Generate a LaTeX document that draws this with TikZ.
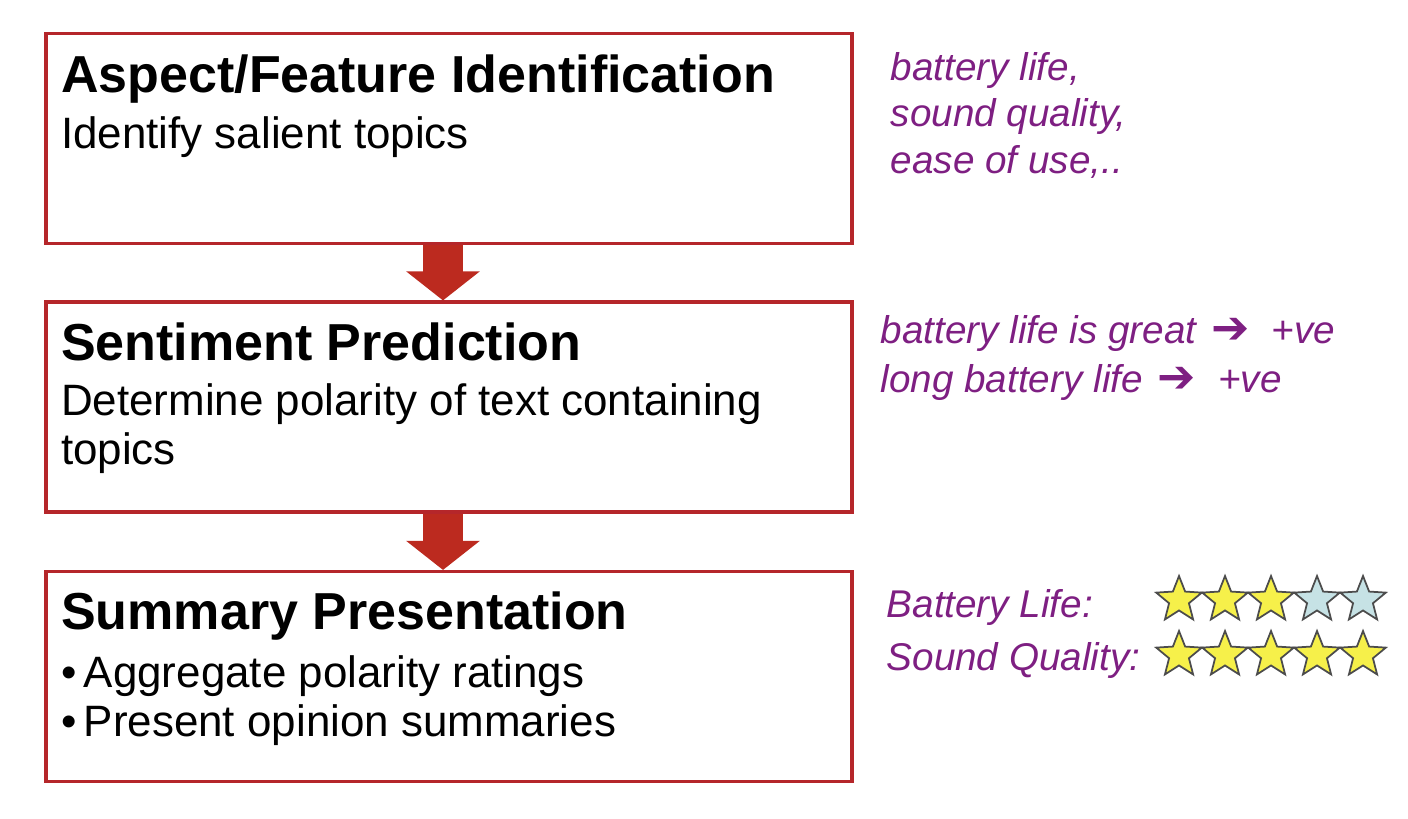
\documentclass[tikz,border=0pt]{standalone}
\usepackage{fontspec}
\setmainfont{Liberation Sans}
\newfontfamily\symfont{DejaVu Sans}
\usetikzlibrary{arrows.meta,positioning,calc,shapes.geometric}
\definecolor{boxred}{HTML}{B5262A}
\definecolor{arrowred}{HTML}{BC2A1F}
\definecolor{notepurple}{HTML}{7E1F82}
\definecolor{staryellow}{HTML}{F6F04A}
\definecolor{starblue}{HTML}{C6E2E5}
\newcommand{\goesto}{{\symfont\bfseries\upshape\fontsize{13}{13}\selectfont ➔}}

\begin{document}
\begin{tikzpicture}[
  x=0.1mm, y=-0.1mm,
  stage/.style={draw=boxred, line width=0.9pt, minimum width=8.06cm, minimum height=2.1cm, inner sep=0pt},
  title/.style={anchor=base west, inner sep=0pt, font=\fontsize{14.8}{17}\selectfont\bfseries},
  body/.style={anchor=base west, inner sep=0pt, align=left, font=\fontsize{12.5}{14}\selectfont},
  flow/.style={-{Triangle[width=0.72cm,length=0.29cm]}, line width=0.4cm, arrowred},
  note/.style={anchor=base west, inner sep=0pt, align=left, text=notepurple, font=\fontsize{11}{13.2}\selectfont\itshape},
  rate/.style={star, star points=5, star point ratio=2.3, draw=gray!60!black, line width=0.5pt, minimum size=0.48cm, inner sep=0pt},
]
  \useasboundingbox (0,0) rectangle (1408,818);

  % Stages
  \node[stage] (aspect) at (449,138.5) {};
  \node[stage] (sentiment) at (449,407) {};
  \node[stage] (summary) at (449,676.5) {};

  % (base of a two-line node = its last line)
  \node[title] (aspecttitle) at ($(aspect.north west)+(16,61)$) {Aspect/Feature Identification};
  \node[body] (aspectbody) at ($(aspect.north west)+(16,117)$) {Identify salient topics};

  \node[title] (sentimenttitle) at ($(sentiment.north west)+(16,60)$) {Sentiment Prediction};
  \node[body] (sentimentbody) at ($(sentiment.north west)+(16,164)$) {Determine polarity of text containing\\topics};

  \node[title] (summarytitle) at ($(summary.north west)+(16,60)$) {Summary Presentation};
  \node[body] (summarybody) at ($(summary.north west)+(16,167)$) {\textbullet\,Aggregate polarity ratings\\\textbullet\,Present opinion summaries};

  % Flow arrows
  \draw[flow] ([xshift=-0.06cm]aspect.south) -- ([xshift=-0.06cm]sentiment.north);
  \draw[flow] ([xshift=-0.06cm]sentiment.south) -- ([xshift=-0.06cm]summary.north);

  % Examples
  \node[note] (topics) at (890,173) {battery life,\\sound quality,\\ease of use,..};
  \node[note, font=\fontsize{11}{13.7}\selectfont\itshape] (polarity) at (880,392)
    {battery life is great\hspace{0.15cm}\goesto\hspace{0.22cm}+ve\\long battery life\hspace{0.15cm}\goesto\hspace{0.22cm}+ve};
  \node[note] (battlabel) at (886,617) {Battery Life:};
  \node[note] (soundlabel) at (886,670) {Sound Quality:};

  % Ratings
  \foreach \i/\c in {1/staryellow,2/staryellow,3/staryellow,4/starblue,5/starblue}
    \node[rate, fill=\c] (batt\i) at ({1179+46*(\i-1)},600) {};
  \foreach \i in {1,...,5}
    \node[rate, fill=staryellow] (sound\i) at ({1179+46*(\i-1)},655) {};
\end{tikzpicture}
\end{document}
